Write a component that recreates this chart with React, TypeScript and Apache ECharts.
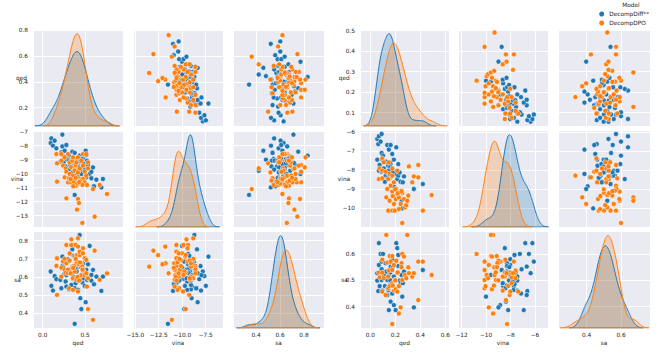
import React, { useEffect, useRef } from "react";
import * as echarts from "echarts";

const MODELS = ["DecompDiff**", "DecompDPO"];
const COLORS = ["#1f77b4", "#ff7f0e"];
const VARS = ["qed", "vina", "sa"];

// ---------- Left pairplot data ----------
const L_DIFF_QED = [0.094,0.102,0.121,0.141,0.161,0.208,0.220,0.232,0.232,0.247,0.247,0.259,0.271,0.279,0.279,0.299,0.311,0.311,0.318,0.326,0.338,0.350,0.350,0.358,0.366,0.378,0.378,0.389,0.389,0.397,0.405,0.417,0.417,0.437,0.437,0.444,0.456,0.456,0.468,0.476,0.476,0.496,0.508,0.515,0.515,0.523,0.535,0.555,0.575,0.575,0.594,0.606,0.634,0.693,0.712,0.36,0.40,0.44,0.48,0.38,0.46];
const L_DIFF_VINA = [-7.81,-7.48,-8.0,-7.64,-8.19,-9.14,-8.48,-7.21,-8.05,-9.19,-8.76,-8.36,-9.48,-7.95,-8.95,-8.83,-8.67,-9.07,-9.67,-9.38,-9.07,-8.43,-10.38,-9.91,-9.24,-8.52,-11.52,-10.62,-10.14,-8.95,-9.79,-10.26,-9.48,-9.19,-8.71,-9.0,-9.79,-10.02,-10.57,-8.91,-9.55,-9.71,-8.36,-10.26,-8.67,-9.07,-9.38,-10.02,-10.33,-9.86,-9.55,-10.90,-10.43,-10.98,-10.38,-9.0,-9.2,-9.1,-9.3,-9.25,-8.95];
const L_DIFF_SA = [0.630,0.551,0.525,0.605,0.588,0.584,0.538,0.712,0.660,0.648,0.681,0.620,0.575,0.610,0.547,0.697,0.639,0.532,0.640,0.727,0.556,0.752,0.620,0.590,0.716,0.538,0.342,0.566,0.630,0.648,0.685,0.584,0.529,0.600,0.831,0.483,0.423,0.653,0.570,0.675,0.593,0.551,0.461,0.620,0.639,0.584,0.670,0.771,0.580,0.611,0.639,0.560,0.602,0.523,0.602,0.60,0.63,0.58,0.62,0.65,0.61];

const L_DPO_QED = [0.161,0.169,0.169,0.220,0.220,0.240,0.259,0.259,0.271,0.279,0.279,0.299,0.299,0.311,0.318,0.318,0.338,0.338,0.350,0.358,0.358,0.358,0.378,0.378,0.389,0.397,0.397,0.405,0.417,0.417,0.417,0.429,0.437,0.437,0.437,0.456,0.456,0.468,0.476,0.476,0.476,0.496,0.496,0.515,0.515,0.523,0.535,0.535,0.594,0.614,0.673,0.760,0.33,0.37,0.41,0.44,0.47,0.39,0.43,0.36];
const L_DPO_VINA = [-8.60,-9.26,-10.57,-8.60,-9.07,-9.43,-10.26,-8.83,-9.62,-9.86,-11.76,-8.60,-10.62,-10.33,-10.02,-9.19,-10.62,-9.55,-9.07,-10.14,-8.83,-10.50,-9.67,-9.79,-9.38,-9.19,-10.86,-12.57,-8.83,-11.81,-9.91,-12.10,-9.62,-10.38,-10.62,-10.74,-9.07,-13.52,-9.43,-8.60,-10.38,-9.86,-10.62,-10.14,-8.60,-10.81,-9.62,-9.19,-11.10,-13.07,-10.81,-11.45,-10.4,-10.6,-10.7,-10.5,-10.8,-10.3,-10.6,-10.9];
const L_DPO_SA = [0.661,0.501,0.703,0.650,0.602,0.685,0.639,0.700,0.624,0.776,0.675,0.640,0.620,0.538,0.730,0.690,0.776,0.807,0.657,0.660,0.593,0.529,0.712,0.630,0.776,0.584,0.675,0.720,0.813,0.767,0.520,0.670,0.721,0.602,0.739,0.610,0.675,0.657,0.758,0.640,0.730,0.611,0.703,0.694,0.620,0.547,0.423,0.593,0.364,0.745,0.584,0.620,0.62,0.66,0.60,0.68,0.64,0.70,0.58,0.65];

// ---------- Right pairplot data ----------
const R_DIFF_QED = [0.056,0.056,0.064,0.069,0.069,0.075,0.083,0.091,0.091,0.091,0.096,0.102,0.109,0.117,0.123,0.128,0.136,0.136,0.144,0.149,0.163,0.163,0.163,0.176,0.176,0.189,0.189,0.203,0.208,0.216,0.224,0.224,0.235,0.243,0.251,0.256,0.261,0.270,0.349,0.421,0.15,0.16,0.17,0.18,0.16,0.14];
const R_DIFF_VINA = [-6.35,-7.44,-6.62,-6.21,-8.02,-7.72,-6.49,-6.09,-7.09,-8.07,-7.44,-7.23,-7.90,-8.60,-8.28,-7.55,-6.67,-8.11,-7.76,-6.91,-6.67,-7.67,-8.37,-7.14,-8.02,-7.44,-8.84,-8.19,-6.79,-8.46,-7.67,-8.28,-8.11,-8.60,-9.60,-10.00,-8.63,-8.32,-8.98,-8.72,-8.0,-7.8,-8.3,-8.1,-7.6,-8.4];
const R_DIFF_SA = [0.527,0.499,0.459,0.641,0.558,0.478,0.600,0.571,0.542,0.501,0.461,0.600,0.520,0.478,0.565,0.533,0.444,0.501,0.463,0.387,0.552,0.486,0.419,0.450,0.580,0.514,0.406,0.387,0.641,0.622,0.596,0.554,0.499,0.489,0.520,0.438,0.489,0.533,0.397,0.539,0.52,0.50,0.48,0.55,0.53,0.47];

const R_DPO_QED = [0.069,0.075,0.096,0.096,0.096,0.109,0.123,0.128,0.136,0.144,0.144,0.149,0.155,0.155,0.163,0.176,0.176,0.176,0.176,0.189,0.189,0.197,0.203,0.208,0.216,0.216,0.229,0.229,0.243,0.251,0.256,0.256,0.270,0.278,0.288,0.296,0.304,0.309,0.336,0.349,0.384,0.384,0.421,0.491,0.20,0.22,0.18,0.25];
const R_DPO_VINA = [-8.46,-7.90,-7.37,-8.42,-8.02,-7.58,-8.07,-9.42,-8.98,-8.46,-10.12,-7.58,-8.19,-9.60,-8.81,-7.90,-9.12,-10.12,-8.28,-8.63,-9.77,-10.12,-9.51,-8.98,-9.25,-8.02,-9.42,-10.04,-9.77,-9.07,-9.19,-10.77,-9.51,-9.95,-9.83,-9.60,-9.33,-7.79,-8.63,-8.32,-7.72,-8.37,-10.12,-9.30,-9.0,-9.2,-9.35,-9.1];
const R_DPO_SA = [0.529,0.511,0.457,0.578,0.529,0.508,0.444,0.672,0.567,0.514,0.470,0.537,0.478,0.592,0.571,0.489,0.592,0.539,0.334,0.461,0.558,0.501,0.466,0.574,0.527,0.457,0.374,0.478,0.397,0.565,0.501,0.600,0.590,0.520,0.508,0.672,0.549,0.527,0.514,0.527,0.571,0.425,0.571,0.520,0.50,0.53,0.48,0.55];

// ---------- Tick labels ----------
const L_X_TICKS = [[0.0, 0.5], [-15.0, -12.5, -10.0, -7.5], [0.4, 0.6, 0.8]];
const L_Y_TICKS = [[0.2, 0.4, 0.6, 0.8], [-13, -12, -11, -10, -9, -8, -7], [0.4, 0.5, 0.6, 0.7, 0.8]];
const R_X_TICKS = [[0.0, 0.2, 0.4, 0.6], [-12, -10, -8, -6], [0.4, 0.6]];
const R_Y_TICKS = [[0.1, 0.2, 0.3, 0.4, 0.5], [-10, -9, -8, -7, -6], [0.4, 0.5, 0.6]];
const L_X_DEC = [1, 1, 1];
const L_Y_DEC = [1, 0, 1];
const R_X_DEC = [1, 0, 1];
const R_Y_DEC = [1, 0, 1];

// ---------- Axis ranges & layout ----------
const L_X_RANGE = [[-0.115, 0.949], [-15.24, -5.66], [0.208, 0.967]];
const L_Y_RANGE = [[0.058, 0.808], [-13.81, -6.88], [0.319, 0.853]];
const R_X_RANGE = [[-0.082, 0.63], [-12.29, -4.93], [0.233, 0.769]];
const R_Y_RANGE = [[0.035, 0.508], [-10.98, -5.88], [0.319, 0.687]];

const ROWS_TOP = [29, 130, 231];
const ROW_H = 97;
const FONT = "DejaVu Sans";
const FS = 5.8;
const TXT = "#262626";

const PLOTS = [
  {
    data: [[L_DIFF_QED, L_DIFF_VINA, L_DIFF_SA], [L_DPO_QED, L_DPO_VINA, L_DPO_SA]],
    xr: L_X_RANGE, yr: L_Y_RANGE, xt: L_X_TICKS, yt: L_Y_TICKS, xd: L_X_DEC, yd: L_Y_DEC,
    cols: [33, 133, 233], widths: [90, 90, 91], nameGap: [11.5, 16, 15.5],
  },
  {
    data: [[R_DIFF_QED, R_DIFF_VINA, R_DIFF_SA], [R_DPO_QED, R_DPO_VINA, R_DPO_SA]],
    xr: R_X_RANGE, yr: R_Y_RANGE, xt: R_X_TICKS, yt: R_Y_TICKS, xd: R_X_DEC, yd: R_Y_DEC,
    cols: [360, 458, 558], widths: [89, 90, 92], nameGap: [15.7, 16, 15.5],
  },
];

function fmt(dec: number) {
  return (v: number) => (v < -1e-9 ? "\u2212" : "") + Math.abs(v).toFixed(dec);
}

function kdeCurve(vals: number[], weight: number) {
  const n = vals.length;
  const mean = vals.reduce((a, b) => a + b, 0) / n;
  const sd = Math.sqrt(vals.reduce((a, b) => a + (b - mean) * (b - mean), 0) / (n - 1));
  const bw = sd * Math.pow(n, -0.2);
  const lo = Math.min(...vals) - 3 * bw;
  const hi = Math.max(...vals) + 3 * bw;
  const pts: number[][] = [];
  const G = 200;
  for (let i = 0; i < G; i++) {
    const x = lo + ((hi - lo) * i) / (G - 1);
    let s = 0;
    for (const v of vals) {
      const z = (x - v) / bw;
      s += Math.exp(-0.5 * z * z);
    }
    pts.push([x, (weight * s) / (n * bw * Math.sqrt(2 * Math.PI))]);
  }
  return { pts, lo, hi };
}

function makeAxis(
  gridIndex: number, range: number[], ticks: number[], dec: number,
  showLabel: boolean, name: string, isX: boolean, nameGap: number
) {
  const interval = Math.round((ticks[1] - ticks[0]) * 1000) / 1000;
  return {
    type: "value",
    gridIndex,
    min: range[0],
    max: range[1],
    minInterval: interval,
    maxInterval: interval,
    splitNumber: ticks.length,
    axisLine: { show: false },
    axisTick: { show: false },
    splitLine: { show: true, lineStyle: { color: "#ffffff", width: 1 } },
    axisLabel: {
      show: showLabel,
      showMinLabel: false,
      showMaxLabel: false,
      fontSize: FS,
      fontFamily: FONT,
      color: TXT,
      margin: isX ? 4 : 5,
      formatter: fmt(dec),
    },
    name: showLabel ? name : "",
    nameLocation: "middle",
    nameGap,
    nameRotate: 0,
    nameMoveOverlap: false,
    nameTextStyle: {
      fontSize: FS,
      fontFamily: FONT,
      color: TXT,
      align: "center",
      verticalAlign: isX ? "top" : "middle",
      padding: isX ? 0 : [4, 0, 0, 0],
    },
  };
}

function buildOption() {
  const grid: any[] = [];
  const xAxis: any[] = [];
  const yAxis: any[] = [];
  const densAxes: any[] = [];
  const series: any[] = [];

  PLOTS.forEach((P, p) => {
    const total = P.data[0][0].length + P.data[1][0].length;
    for (let r = 0; r < 3; r++) {
      for (let c = 0; c < 3; c++) {
        const g = p * 9 + r * 3 + c;
        grid.push({
          left: P.cols[c], top: ROWS_TOP[r], width: P.widths[c], height: ROW_H,
          show: true, backgroundColor: "#EAEAF2", borderWidth: 0,
        });
        xAxis.push(makeAxis(g, P.xr[c], P.xt[c], P.xd[c], r === 2, VARS[c], true, 12));
        yAxis.push(makeAxis(g, P.yr[r], P.yt[r], P.yd[r], c === 0, VARS[r], false, P.nameGap[r]));
        if (r === c) {
          const dIndex = 18 + p * 3 + r;
          const curves = [0, 1].map((m) => kdeCurve(P.data[m][c], P.data[m][c].length / total));
          let ymax = 0;
          curves.forEach((cv) => cv.pts.forEach((q) => (ymax = Math.max(ymax, q[1]))));
          densAxes.push({ type: "value", gridIndex: g, min: 0, max: ymax * 1.05, show: false });
          curves.forEach((cv, m) => {
            series.push({
              type: "line", name: MODELS[m], xAxisIndex: g, yAxisIndex: dIndex,
              data: cv.pts, showSymbol: false, symbol: "none", silent: true, smooth: false,
              lineStyle: { color: COLORS[m], width: 1 }, itemStyle: { color: COLORS[m] },
              areaStyle: { color: COLORS[m], opacity: 0.25 },
            });
            series.push({
              type: "line", name: MODELS[m], xAxisIndex: g, yAxisIndex: dIndex,
              data: [[cv.lo, 0], [cv.hi, 0]], showSymbol: false, symbol: "none", silent: true,
              lineStyle: { color: COLORS[m], width: 1 }, itemStyle: { color: COLORS[m] },
            });
          });
        } else {
          [0, 1].forEach((m) => {
            const xs = P.data[m][c];
            const ys = P.data[m][r];
            series.push({
              type: "scatter", name: MODELS[m], xAxisIndex: g, yAxisIndex: g,
              data: xs.map((x, i) => [x, ys[i]]),
              symbolSize: 5, silent: true,
              itemStyle: { color: COLORS[m], borderColor: "#ffffff", borderWidth: 0.5, opacity: 1 },
            });
          });
        }
      }
    }
  });

  return {
    animation: false,
    backgroundColor: "#ffffff",
    textStyle: { fontFamily: FONT },
    grid,
    xAxis,
    yAxis: yAxis.concat(densAxes),
    series,
    legend: {
      orient: "vertical",
      left: 599.2,
      top: 9.5,
      itemWidth: 5,
      itemHeight: 5,
      itemGap: 0,
      icon: "circle",
      selectedMode: false,
      padding: 0,
      textStyle: { fontSize: FS, fontFamily: FONT, color: TXT, lineHeight: 9 },
      data: MODELS.map((n, i) => ({ name: n, icon: "circle", itemStyle: { color: COLORS[i], borderWidth: 0 } })),
    },
    graphic: [
      {
        type: "text", x: 631, y: 4.5, silent: true,
        style: { text: "Model", fontSize: FS, fontFamily: FONT, fill: TXT, align: "center", verticalAlign: "middle" },
      },
    ],
  };
}

export default function App() {
  const ref = useRef<HTMLDivElement>(null);
  useEffect(() => {
    if (!ref.current) return;
    const chart = echarts.init(ref.current, undefined, { renderer: "svg" });
    chart.setOption(buildOption() as any);
    return () => chart.dispose();
  }, []);
  return (
    <div
      ref={ref}
      style={{ position: "fixed", left: 0, top: 0, width: 664, height: 354, background: "#fff" }}
    />
  );
}
